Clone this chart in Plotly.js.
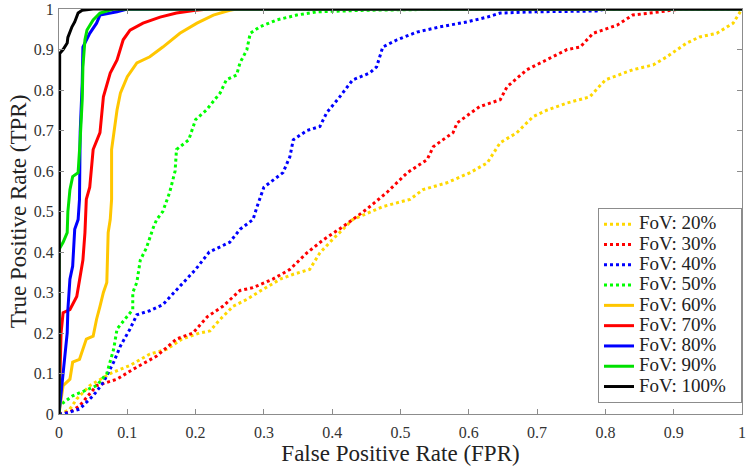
<!DOCTYPE html>
<html>
<head>
<meta charset="utf-8">
<script src="https://cdn.plot.ly/plotly-3.0.1.min.js"></script>
<style>html,body{margin:0;padding:0;background:#fff;}#chart{width:750px;height:471px;}</style>
</head>
<body>
<div id="chart"></div>
<script>
const seriesNames = ["FoV: 20%","FoV: 30%","FoV: 40%","FoV: 50%","FoV: 60%","FoV: 70%","FoV: 80%","FoV: 90%","FoV: 100%"];

const fpr20 = [0,0.015,0.026,0.045,0.075,0.104,0.133,0.158,0.18,0.206,0.221,0.236,0.255,0.275,0.294,0.324,0.343,0.367,0.382,0.40,0.43,0.474,0.514,0.533,0.568,0.602,0.627,0.646,0.67,0.694,0.714,0.744,0.777,0.80,0.84,0.87,0.89,0.919,0.938,0.963,0.987,1];
const tpr20 = [0,0.01,0.037,0.07,0.10,0.12,0.148,0.16,0.185,0.20,0.205,0.234,0.266,0.283,0.303,0.333,0.345,0.357,0.398,0.43,0.48,0.512,0.53,0.554,0.571,0.596,0.62,0.67,0.694,0.734,0.75,0.768,0.783,0.825,0.85,0.862,0.882,0.916,0.931,0.94,0.965,1];

const fpr30 = [0,0.016,0.03,0.055,0.085,0.108,0.143,0.172,0.196,0.217,0.24,0.265,0.284,0.313,0.338,0.363,0.387,0.416,0.45,0.48,0.51,0.539,0.548,0.577,0.583,0.616,0.646,0.656,0.685,0.714,0.744,0.763,0.782,0.817,0.84,0.88,0.909,1];
const tpr30 = [0,0.005,0.02,0.07,0.086,0.11,0.143,0.185,0.20,0.24,0.266,0.305,0.312,0.333,0.357,0.398,0.43,0.463,0.505,0.547,0.596,0.628,0.66,0.695,0.719,0.759,0.776,0.808,0.85,0.874,0.90,0.906,0.94,0.96,0.985,0.993,1,1];

const fpr40 = [0,0.006,0.03,0.05,0.065,0.08,0.09,0.104,0.114,0.133,0.152,0.177,0.2,0.22,0.25,0.265,0.284,0.29,0.30,0.328,0.338,0.343,0.363,0.382,0.392,0.411,0.43,0.455,0.465,0.474,0.495,0.524,0.558,0.597,0.627,0.646,0.694,0.787,0.8,1];
const tpr40 = [0,0,0.012,0.045,0.078,0.128,0.168,0.21,0.245,0.255,0.27,0.315,0.357,0.40,0.424,0.456,0.48,0.512,0.56,0.596,0.635,0.677,0.70,0.71,0.744,0.783,0.825,0.842,0.857,0.906,0.924,0.943,0.956,0.968,0.98,0.99,0.993,0.995,1,1];

const fpr50 = [0,0,0.02,0.04,0.055,0.07,0.08,0.085,0.1,0.108,0.108,0.114,0.119,0.128,0.138,0.143,0.152,0.162,0.17,0.172,0.19,0.2,0.216,0.236,0.245,0.26,0.265,0.275,0.28,0.294,0.319,0.348,0.377,0.45,0.6,1];
const tpr50 = [0,0.02,0.045,0.06,0.07,0.10,0.16,0.21,0.24,0.258,0.30,0.325,0.38,0.41,0.46,0.48,0.50,0.547,0.60,0.653,0.677,0.727,0.751,0.793,0.825,0.837,0.867,0.899,0.94,0.956,0.973,0.985,0.993,0.997,1,1];

const fpr60 = [0,0.006,0.016,0.02,0.03,0.035,0.04,0.05,0.055,0.06,0.065,0.07,0.072,0.075,0.077,0.077,0.079,0.085,0.09,0.1,0.114,0.133,0.152,0.177,0.202,0.226,0.25,0.26,1];
const tpr60 = [0,0.07,0.086,0.128,0.135,0.16,0.185,0.192,0.234,0.266,0.30,0.325,0.448,0.48,0.53,0.653,0.677,0.751,0.793,0.833,0.867,0.882,0.906,0.94,0.965,0.985,0.997,1,1];

const fpr70 = [0,0.003,0.006,0.016,0.026,0.03,0.035,0.038,0.04,0.045,0.05,0.06,0.065,0.075,0.085,0.094,0.104,0.123,0.148,0.172,0.2,0.22,1];
const tpr70 = [0,0.20,0.25,0.258,0.29,0.333,0.38,0.448,0.53,0.56,0.653,0.695,0.783,0.842,0.874,0.924,0.948,0.965,0.98,0.99,0.997,1,1];

const fpr80 = [0,0.006,0.012,0.013,0.016,0.02,0.023,0.028,0.03,0.031,0.034,0.035,0.045,0.055,0.06,0.085,0.1,1];
const tpr80 = [0,0.10,0.2,0.258,0.333,0.365,0.456,0.48,0.53,0.695,0.818,0.906,0.94,0.965,0.985,0.993,1,1];

const fpr90 = [0,0,0.006,0.012,0.013,0.016,0.02,0.028,0.031,0.034,0.035,0.038,0.041,0.05,0.06,0.08,1];
const tpr90 = [0,0.406,0.424,0.448,0.5,0.554,0.586,0.596,0.677,0.776,0.857,0.924,0.948,0.973,0.99,1,1];

const fpr100 = [0,0,0.001,0.006,0.012,0.013,0.019,0.023,0.028,0.034,0.05,1];
const tpr100 = [0,0.74,0.89,0.9,0.916,0.93,0.956,0.968,0.99,0.997,1,1];

const xs = [fpr20,fpr30,fpr40,fpr50,fpr60,fpr70,fpr80,fpr90,fpr100];
const ys = [tpr20,tpr30,tpr40,tpr50,tpr60,tpr70,tpr80,tpr90,tpr100];
const colors = ["#ffd800","#ff0000","#0000ff","#00ff00","#ffc600","#ff0000","#0000ff","#00e000","#000000"];
const dashes = ["dot","dot","dot","dot","solid","solid","solid","solid","solid"];

const traces = seriesNames.map((n,i)=>({
  type:"scatter", mode:"lines",
  name:'<span style="font-size:19px">' + n + '\u00a0\u00a0</span>',
  x:xs[i], y:ys[i], cliponaxis:false,
  line:{color:colors[i], width:3, dash:dashes[i]}
}));

const serif = "'Liberation Serif','Times New Roman',serif";
const axisCommon = {
  range:[0,1], dtick:0.1, tick0:0, showgrid:false, zeroline:false,
  showline:true, linecolor:"#8c8c8c", linewidth:1, mirror:"ticks",
  ticks:"inside", ticklen:5, tickcolor:"#8c8c8c",
  tickfont:{family:serif, size:16, color:"#333"}
};
const layout = {
  width:750, height:471,
  margin:{l:59, r:8, t:9, b:57},
  paper_bgcolor:"#fff", plot_bgcolor:"#fff",
  showlegend:true,
  legend:{x:1, xanchor:"right", y:0.027, yanchor:"bottom", bgcolor:"#fff",
    bordercolor:"#8c8c8c", borderwidth:1, font:{family:serif, size:13.3, color:"#222"},
    tracegroupgap:0},
  xaxis:Object.assign({}, axisCommon, {ticklabelstandoff:4, title:{text:"False Positive Rate (FPR)", font:{family:serif, size:23, color:"#222"}, standoff:4}}),
  yaxis:Object.assign({}, axisCommon, {ticklabelstandoff:1, title:{text:"True Positive Rate (TPR)", font:{family:serif, size:23, color:"#222"}, standoff:0}})
};
Plotly.newPlot("chart", traces, layout, {staticPlot:true, displayModeBar:false});
</script>
</body>
</html>
